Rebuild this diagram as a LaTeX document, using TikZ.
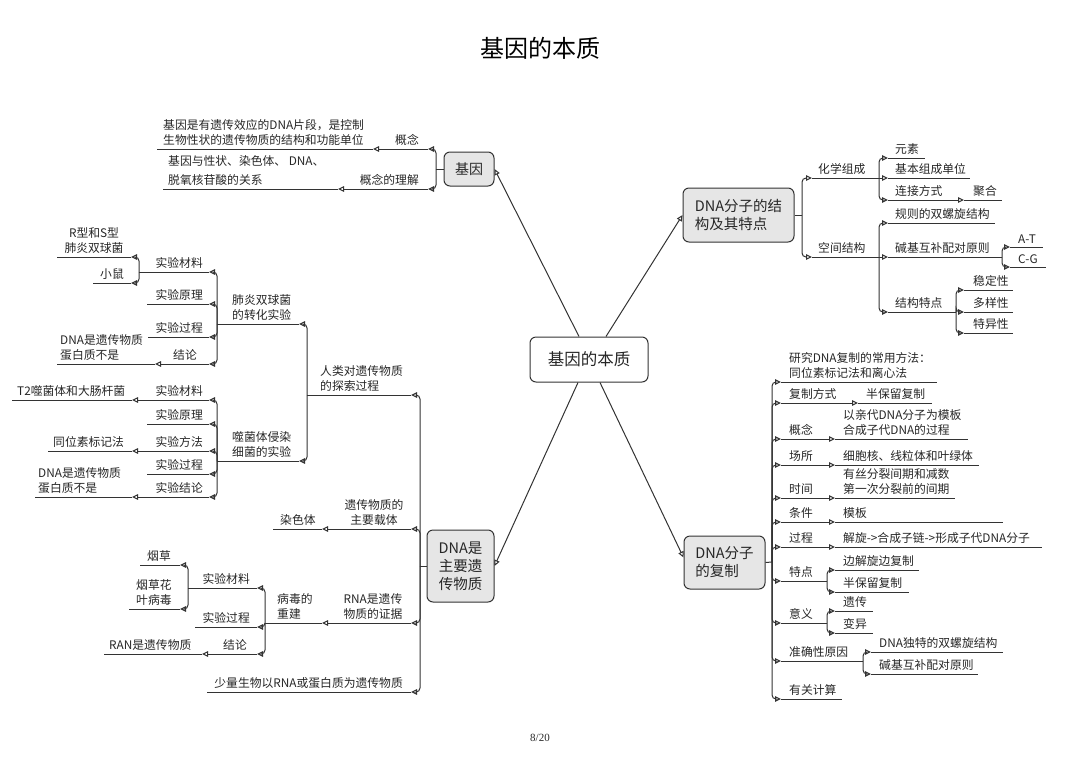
\documentclass[tikz,border=0pt]{standalone}
\usepackage{fontspec}
\setmainfont{Noto Sans CJK SC}
\newfontfamily\pagefont{Liberation Serif}
\usetikzlibrary{arrows.meta}

\definecolor{lncol}{HTML}{333333}
\definecolor{boxcol}{HTML}{E6E6E6}
\definecolor{txtcol}{HTML}{262626}

\tikzset{
  lnk/.style={draw=lncol, line width=1pt},
  lk/.style={lnk, -{Triangle[open,length=6pt,width=5.5pt]}},
  br/.style={lnk, rounded corners=4pt, -{Triangle[open,length=6pt,width=5.5pt]}},
  lbl/.style={inner sep=0pt, text=txtcol, font=\fontsize{11.8}{15.5}\selectfont},
  lw/.style={lbl, anchor=south west, align=left},
  le/.style={lbl, anchor=south east, align=right},
  lc/.style={lbl, anchor=south, align=center},
  box/.style={draw=lncol, line width=1pt, rounded corners=6pt, fill=boxcol, text=txtcol, inner sep=0pt},
}

\begin{document}
\begin{tikzpicture}[x=1pt,y=-1pt]
  \useasboundingbox (0,0) rectangle (1080,764);

  \node[text=black, font=\fontsize{24}{28}\selectfont] (title) at (540,48) {基因的本质};
  \node[text=txtcol, font=\pagefont\fontsize{11}{13}\selectfont] (page) at (540,738) {8/20};

  % main boxes
  \node[box, fill=white, minimum width=118pt, minimum height=45pt, font=\fontsize{16.5}{20}\selectfont] (root) at (589,359.5) {基因的本质};
  \node[box, minimum width=50pt, minimum height=34pt, font=\fontsize{14}{18}\selectfont] (gene) at (469,169) {基因};
  \node[box, minimum width=111pt, minimum height=54pt, align=left, font=\fontsize{14.5}{18}\selectfont] (struct) at (738.5,215) {DNA分子的结\\构及其特点};
  \node[box, minimum width=67pt, minimum height=72pt, align=center, font=\fontsize{14.5}{18}\selectfont] (main) at (460.5,566) {DNA是\\主要遗\\传物质};
  \node[box, minimum width=81pt, minimum height=53pt, align=left, font=\fontsize{14.5}{18}\selectfont] (repl) at (724.5,562.5) {DNA分子\\的复制};

  \draw[lk] ([xshift=-10pt]root.north) -- (gene.east);
  \draw[lk] ([xshift=17pt]root.north) -- (struct.west);
  \draw[lk] ([xshift=-11pt]root.south) -- (main.east);
  \draw[lk] ([xshift=11pt]root.south) -- ([yshift=5pt]repl.west);

  % 基因
  \coordinate (gn-j) at (436,169);
  \draw[lnk] (gene.west) -- (gn-j);
  \coordinate (gn1-s) at (428,149); \coordinate (gn1-m) at (373,149); \coordinate (gn1-e) at (157,149);
  \draw[br] (gn-j) |- (gn1-s);
  \draw[br] (gn1-s) -- (gn1-m);
  \draw[lnk] (gn1-m) -- (gn1-e);
  \node[le] (gn1) at (419,146) {概念};
  \node[lw] (gn1t) at (163,146) {基因是有遗传效应的DNA片段，是控制\\生物性状的遗传物质的结构和功能单位};
  \coordinate (gn2-s) at (428,189); \coordinate (gn2-m) at (338,189); \coordinate (gn2-e) at (163,189);
  \draw[br] (gn-j) |- (gn2-s);
  \draw[br] (gn2-s) -- (gn2-m);
  \draw[lnk] (gn2-m) -- (gn2-e);
  \node[le] (gn2) at (419,186) {概念的理解};
  \node[lw, font=\fontsize{11.8}{19}\selectfont] (gn2t) at (168,186) {基因与性状、染色体、 DNA、\\脱氧核苷酸的关系};

  % DNA分子的结构及其特点
  \coordinate (st-j) at (802,215);
  \draw[lnk] (struct.east) -- (st-j);
  \coordinate (st1-s) at (812,178); \coordinate (st1-e) at (879,178);
  \draw[br] (st-j) |- (st1-s);
  \draw[lnk] (st1-s) -- (st1-e);
  \node[lw] (st1) at (818,175) {化学组成};
  \coordinate (st11-s) at (888,158); \coordinate (st11-e) at (925,158);
  \draw[br] (st1-e) |- (st11-s);
  \draw[lnk] (st11-s) -- (st11-e);
  \node[lw] (st11) at (895,155) {元素};
  \coordinate (st12-s) at (888,178); \coordinate (st12-e) at (970,178);
  \draw[br] (st1-e) -- (st12-s);
  \draw[lnk] (st12-s) -- (st12-e);
  \node[lw] (st12) at (895,175) {基本组成单位};
  \coordinate (st13-s) at (888,200); \coordinate (st13-m) at (964,200); \coordinate (st13-e) at (1002,200);
  \draw[br] (st1-e) |- (st13-s);
  \draw[br] (st13-s) -- (st13-m);
  \draw[lnk] (st13-m) -- (st13-e);
  \node[lw] (st13) at (895,197) {连接方式};
  \node[lw] (st13t) at (973,197) {聚合};

  \coordinate (st2-s) at (812,257); \coordinate (st2-e) at (879,257);
  \draw[br] (st-j) |- (st2-s);
  \draw[lnk] (st2-s) -- (st2-e);
  \node[lw] (st2) at (818,254) {空间结构};
  \coordinate (st21-s) at (888,223); \coordinate (st21-e) at (995,223);
  \draw[br] (st2-e) |- (st21-s);
  \draw[lnk] (st21-s) -- (st21-e);
  \node[lw] (st21) at (895,220) {规则的双螺旋结构};
  \coordinate (st22-s) at (888,257); \coordinate (st22-e) at (1002,257);
  \draw[br] (st2-e) -- (st22-s);
  \draw[lnk] (st22-s) -- (st22-e);
  \node[lw] (st22) at (895,254) {碱基互补配对原则};
  \coordinate (at-s) at (1010,247); \coordinate (at-e) at (1043,247);
  \draw[br] (st22-e) |- (at-s);
  \draw[lnk] (at-s) -- (at-e);
  \node[lw] (at) at (1018,244) {A-T};
  \coordinate (cg-s) at (1010,267); \coordinate (cg-e) at (1046,267);
  \draw[br] (st22-e) |- (cg-s);
  \draw[lnk] (cg-s) -- (cg-e);
  \node[lw] (cg) at (1018,264) {C-G};
  \coordinate (st23-s) at (888,312); \coordinate (st23-e) at (956,312);
  \draw[br] (st2-e) |- (st23-s);
  \draw[lnk] (st23-s) -- (st23-e);
  \node[lw] (st23) at (895,309) {结构特点};
  \foreach \n/\yy/\txt in {a/290/稳定性, b/312/多样性, c/333/特异性}{
    \coordinate (tz\n-s) at (964,\yy); \coordinate (tz\n-e) at (1013,\yy);
    \draw[br] (st23-e) |- (tz\n-s);
    \draw[lnk] (tz\n-s) -- (tz\n-e);
    \node[lw] (tz\n) at (973,\yy-3) {\txt};
  }

  % DNA分子的复制
  \coordinate (rp-j) at (772,562);
  \draw[lnk] (repl.east) -- (rp-j);
  \coordinate (rp1-s) at (781,382); \coordinate (rp1-e) at (937,382);
  \draw[br] (rp-j) |- (rp1-s);
  \draw[lnk] (rp1-s) -- (rp1-e);
  \node[lw] (rp1) at (789,379) {研究DNA复制的常用方法：\\同位素标记法和离心法};
  \coordinate (rp2-s) at (781,403); \coordinate (rp2-m) at (858,403); \coordinate (rp2-e) at (932,403);
  \draw[br] (rp-j) |- (rp2-s);
  \draw[br] (rp2-s) -- (rp2-m);
  \draw[lnk] (rp2-m) -- (rp2-e);
  \node[lw] (rp2) at (789,400) {复制方式};
  \node[lw] (rp2t) at (866,400) {半保留复制};
  \foreach \n/\yy/\ee/\a/\b in {3/439/968/概念/{以亲代DNA分子为模板\\合成子代DNA的过程},
      4/465/979/场所/细胞核、线粒体和叶绿体,
      5/498/955/时间/{有丝分裂间期和减数\\第一次分裂前的间期},
      6/522/1003/条件/模板,
      7/547/1042/过程/解旋->合成子链->形成子代DNA分子}{
    \coordinate (rp\n-s) at (781,\yy); \coordinate (rp\n-m) at (835,\yy); \coordinate (rp\n-e) at (\ee,\yy);
    \draw[br] (rp-j) |- (rp\n-s);
    \draw[br] (rp\n-s) -- (rp\n-m);
    \draw[lnk] (rp\n-m) -- (rp\n-e);
    \node[lw] (rp\n) at (789,\yy-3) {\a};
    \node[lw] (rp\n t) at (843,\yy-3) {\b};
  }
  \coordinate (rp8-s) at (781,581); \coordinate (rp8-e) at (827,581);
  \draw[br] (rp-j) |- (rp8-s);
  \draw[lnk] (rp8-s) -- (rp8-e);
  \node[lw] (rp8) at (789,578) {特点};
  \coordinate (td1-s) at (835,570); \coordinate (td1-e) at (919,570);
  \coordinate (td2-s) at (835,592); \coordinate (td2-e) at (909,592);
  \draw[br] (rp8-e) |- (td1-s); \draw[lnk] (td1-s) -- (td1-e);
  \draw[br] (rp8-e) |- (td2-s); \draw[lnk] (td2-s) -- (td2-e);
  \node[lw] (td1) at (843,567) {边解旋边复制};
  \node[lw] (td2) at (843,589) {半保留复制};
  \coordinate (rp9-s) at (781,623); \coordinate (rp9-e) at (827,623);
  \draw[br] (rp-j) |- (rp9-s);
  \draw[lnk] (rp9-s) -- (rp9-e);
  \node[lw] (rp9) at (789,620) {意义};
  \coordinate (yy1-s) at (835,611); \coordinate (yy1-e) at (873,611);
  \coordinate (yy2-s) at (835,633); \coordinate (yy2-e) at (873,633);
  \draw[br] (rp9-e) |- (yy1-s); \draw[lnk] (yy1-s) -- (yy1-e);
  \draw[br] (rp9-e) |- (yy2-s); \draw[lnk] (yy2-s) -- (yy2-e);
  \node[lw] (yy1) at (843,608) {遗传};
  \node[lw] (yy2) at (843,630) {变异};
  \coordinate (rp10-s) at (781,661); \coordinate (rp10-e) at (863,661);
  \draw[br] (rp-j) |- (rp10-s);
  \draw[lnk] (rp10-s) -- (rp10-e);
  \node[lw] (rp10) at (789,658) {准确性原因};
  \coordinate (zq1-s) at (871,652); \coordinate (zq1-e) at (1003,652);
  \coordinate (zq2-s) at (871,674); \coordinate (zq2-e) at (978,674);
  \draw[br] (rp10-e) |- (zq1-s); \draw[lnk] (zq1-s) -- (zq1-e);
  \draw[br] (rp10-e) |- (zq2-s); \draw[lnk] (zq2-s) -- (zq2-e);
  \node[lw] (zq1) at (879,649) {DNA独特的双螺旋结构};
  \node[lw] (zq2) at (879,671) {碱基互补配对原则};
  \coordinate (rp11-s) at (781,699); \coordinate (rp11-e) at (842,699);
  \draw[br] (rp-j) |- (rp11-s);
  \draw[lnk] (rp11-s) -- (rp11-e);
  \node[lw] (rp11) at (789,696) {有关计算};

  % DNA是主要遗传物质
  \coordinate (mn-j) at (420,566);
  \draw[lnk] (main.west) -- (mn-j);
  \coordinate (mn1-s) at (411,395); \coordinate (mn1-e) at (307,395);
  \draw[br] (mn-j) |- (mn1-s);
  \draw[lnk] (mn1-s) -- (mn1-e);
  \node[lw] (mn1) at (320,392) {人类对遗传物质\\的探索过程};

  % 肺炎双球菌的转化实验
  \coordinate (fy-s) at (299,324); \coordinate (fy-e) at (217,324);
  \draw[br] (mn1-e) |- (fy-s);
  \draw[lnk] (fy-s) -- (fy-e);
  \node[lw] (fy) at (232,321) {肺炎双球菌\\的转化实验};
  \coordinate (fy1-s) at (209,272); \coordinate (fy1-e) at (139,272);
  \draw[br] (fy-e) |- (fy1-s); \draw[lnk] (fy1-s) -- (fy1-e);
  \node[le] (fy1) at (203,269) {实验材料};
  \coordinate (rs-s) at (131,257); \coordinate (rs-e) at (57,257);
  \draw[br] (fy1-e) |- (rs-s); \draw[lnk] (rs-s) -- (rs-e);
  \node[lc] (rs) at (94,254) {R型和S型\\肺炎双球菌};
  \coordinate (xs-s) at (131,283); \coordinate (xs-e) at (93,283);
  \draw[br] (fy1-e) |- (xs-s); \draw[lnk] (xs-s) -- (xs-e);
  \node[lw] (xs) at (100,280) {小鼠};
  \coordinate (fy2-s) at (209,304); \coordinate (fy2-e) at (147,304);
  \draw[br] (fy-e) |- (fy2-s); \draw[lnk] (fy2-s) -- (fy2-e);
  \node[le] (fy2) at (203,301) {实验原理};
  \coordinate (fy3-s) at (209,337); \coordinate (fy3-e) at (148,337);
  \draw[br] (fy-e) |- (fy3-s); \draw[lnk] (fy3-s) -- (fy3-e);
  \node[le] (fy3) at (203,334) {实验过程};
  \coordinate (fy4-s) at (209,364); \coordinate (fy4-m) at (155,364); \coordinate (fy4-e) at (57,364);
  \draw[br] (fy-e) |- (fy4-s); \draw[br] (fy4-s) -- (fy4-m); \draw[lnk] (fy4-m) -- (fy4-e);
  \node[le] (fy4) at (197,361) {结论};
  \node[lw] (fy4t) at (60,361) {DNA是遗传物质\\蛋白质不是};

  % 噬菌体侵染细菌的实验
  \coordinate (sj-s) at (299,461); \coordinate (sj-e) at (217,461);
  \draw[br] (mn1-e) |- (sj-s);
  \draw[lnk] (sj-s) -- (sj-e);
  \node[lw] (sj) at (232,458) {噬菌体侵染\\细菌的实验};
  \foreach \n/\yy/\txt in {2/424/实验原理, 4/474/实验过程}{
    \coordinate (sj\n-s) at (209,\yy); \coordinate (sj\n-e) at (147,\yy);
    \draw[br] (sj-e) |- (sj\n-s); \draw[lnk] (sj\n-s) -- (sj\n-e);
    \node[le] (sj\n) at (203,\yy-3) {\txt};
  }
  \foreach \n/\yy/\ee/\a/\b/\bx in {1/400/12/实验材料/T2噬菌体和大肠杆菌/17,
      3/451/48/实验方法/同位素标记法/53,
      5/497/35/实验结论/{DNA是遗传物质\\蛋白质不是}/38}{
    \coordinate (sj\n-s) at (209,\yy); \coordinate (sj\n-m) at (132,\yy); \coordinate (sj\n-e) at (\ee,\yy);
    \draw[br] (sj-e) |- (sj\n-s); \draw[br] (sj\n-s) -- (sj\n-m); \draw[lnk] (sj\n-m) -- (sj\n-e);
    \node[le] (sj\n) at (203,\yy-3) {\a};
    \node[lw] (sj\n t) at (\bx,\yy-3) {\b};
  }

  % 遗传物质的主要载体
  \coordinate (mn2-s) at (411,529); \coordinate (mn2-m) at (322,529); \coordinate (mn2-e) at (273,529);
  \draw[br] (mn-j) |- (mn2-s); \draw[br] (mn2-s) -- (mn2-m); \draw[lnk] (mn2-m) -- (mn2-e);
  \node[lc] (mn2) at (374,526) {遗传物质的\\主要载体};
  \node[lw] (mn2t) at (280,526) {染色体};

  % RNA是遗传物质的证据
  \coordinate (mn3-s) at (411,623); \coordinate (mn3-m) at (322,623); \coordinate (mn3-e) at (265,623);
  \draw[br] (mn-j) |- (mn3-s); \draw[br] (mn3-s) -- (mn3-m); \draw[lnk] (mn3-m) -- (mn3-e);
  \node[lc] (mn3) at (373,620) {RNA是遗传\\物质的证据};
  \node[lw] (bd) at (277,620) {病毒的\\重建};
  \coordinate (bd1-s) at (257,588); \coordinate (bd1-e) at (188,588);
  \draw[br] (mn3-e) |- (bd1-s); \draw[lnk] (bd1-s) -- (bd1-e);
  \node[le] (bd1) at (250,585) {实验材料};
  \coordinate (yc-s) at (180,565); \coordinate (yc-e) at (140,565);
  \draw[br] (bd1-e) |- (yc-s); \draw[lnk] (yc-s) -- (yc-e);
  \node[lw] (yc) at (147,562) {烟草};
  \coordinate (yh-s) at (180,609); \coordinate (yh-e) at (129,609);
  \draw[br] (bd1-e) |- (yh-s); \draw[lnk] (yh-s) -- (yh-e);
  \node[lw] (yh) at (136,606) {烟草花\\叶病毒};
  \coordinate (bd2-s) at (257,627); \coordinate (bd2-e) at (195,627);
  \draw[br] (mn3-e) |- (bd2-s); \draw[lnk] (bd2-s) -- (bd2-e);
  \node[le] (bd2) at (250,624) {实验过程};
  \coordinate (bd3-s) at (257,654); \coordinate (bd3-m) at (202,654); \coordinate (bd3-e) at (104,654);
  \draw[br] (mn3-e) |- (bd3-s); \draw[br] (bd3-s) -- (bd3-m); \draw[lnk] (bd3-m) -- (bd3-e);
  \node[le] (bd3) at (247,651) {结论};
  \node[lw] (bd3t) at (109,651) {RAN是遗传物质};

  % 少量生物
  \coordinate (mn4-s) at (411,692); \coordinate (mn4-e) at (207,692);
  \draw[br] (mn-j) |- (mn4-s); \draw[lnk] (mn4-s) -- (mn4-e);
  \node[le] (mn4) at (403,689) {少量生物以RNA或蛋白质为遗传物质};
\end{tikzpicture}
\end{document}
